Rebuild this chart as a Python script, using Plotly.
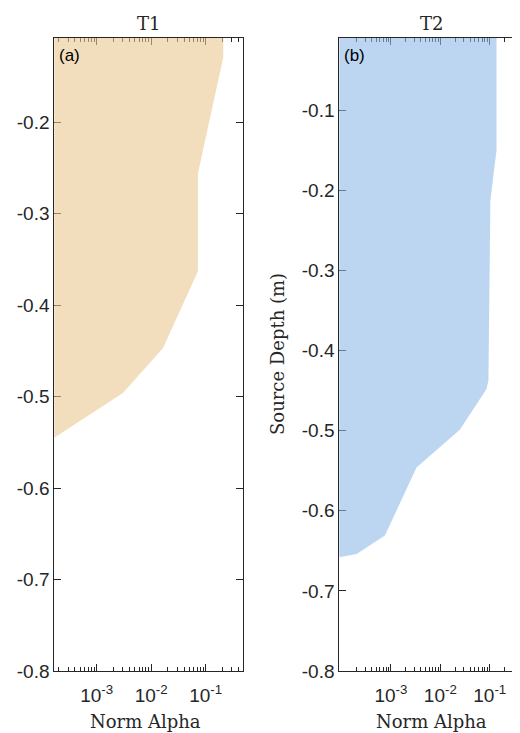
import plotly.graph_objects as go
import numpy as np

# ---------------- data ----------------
T1_depth = [-0.100, -0.129, -0.256, -0.363, -0.447, -0.496, -0.545]
T1_alpha = [0.21, 0.21, 0.072, 0.072, 0.0165, 0.00303, 1.67e-4]

T2_depth = [0.000, -0.150, -0.2125, -0.4375, -0.448, -0.499, -0.546, -0.631, -0.654, -0.658]
T2_alpha = [0.137, 0.137, 0.103, 0.094, 0.086, 0.0248, 0.0033, 0.000757, 0.000203, 9.1e-5]

x_ticks = [1e-3, 1e-2, 1e-1]
x_ticktext = ["10<sup>-3</sup>", "10<sup>-2</sup>", "10<sup>-1</sup>"]
y1_ticks = [-0.8, -0.7, -0.6, -0.5, -0.4, -0.3, -0.2]
y2_ticks = [-0.8, -0.7, -0.6, -0.5, -0.4, -0.3, -0.2, -0.1]
minor_vals = [m * 10.0 ** k for k in range(-5, 0) for m in range(2, 10)]

# the page body has an 8px margin: work in page pixels and subtract it
OFF = 8
W, H = 520, 733 - OFF
AX = "#262626"
SANS = "Liberation Sans, Arial, sans-serif"
SERIF = "DejaVu Serif, serif"
FILL1 = "rgba(233,200,145,0.6)"
FILL2 = "rgba(143,187,233,0.6)"

def px(xp):
    return (xp - OFF) / W

def py(yp):
    return (H - (yp - OFF)) / H

# plot-area geometry (page px)
L1, R1 = 54.3, 243.0
L2, R2 = 339.3, 523.7
TOP, BOT = 38.0, 671.0

fig = go.Figure()

edge = 1e-5  # closes polygon beyond the left edge
fig.add_trace(go.Scatter(
    x=[edge] + T1_alpha, y=[T1_depth[0]] + T1_depth,
    mode="lines", fill="toself", fillcolor=FILL1,
    line=dict(width=0, color=FILL1), hoverinfo="skip",
    xaxis="x", yaxis="y", showlegend=False))
fig.add_trace(go.Scatter(
    x=[edge] + T2_alpha, y=[T2_depth[0]] + T2_depth,
    mode="lines", fill="toself", fillcolor=FILL2,
    line=dict(width=0, color=FILL2), hoverinfo="skip",
    xaxis="x2", yaxis="y2", showlegend=False))

def xax(dom, rng, anchor):
    return dict(
        type="log", domain=dom, range=rng, anchor=anchor, automargin=False,
        layer="below traces",
        tickvals=x_ticks, ticktext=x_ticktext,
        ticks="inside", ticklen=7, tickwidth=1, tickcolor=AX,
        showline=True, linecolor=AX, linewidth=1, mirror="ticks",
        showgrid=False, zeroline=False,
        tickfont=dict(family=SANS, size=19, color=AX),
        ticklabelstandoff=7,
        minor=dict(tickvals=minor_vals, ticks="inside", ticklen=4,
                   tickwidth=1, tickcolor=AX, showgrid=False),
    )

def yax(dom, rng, anchor, ticks):
    return dict(
        domain=dom, range=rng, anchor=anchor, automargin=False,
        layer="below traces",
        tickvals=ticks, ticktext=[f"{t:.1f}" for t in ticks],
        ticks="inside", ticklen=7, tickwidth=1, tickcolor=AX,
        showline=True, linecolor=AX, linewidth=1, mirror="ticks",
        showgrid=False, zeroline=False,
        tickfont=dict(family=SANS, size=19, color=AX),
        ticklabelstandoff=0,
    )

def ann(text, x, y, font, **kw):
    return dict(text=text, x=px(x), y=py(y), xref="paper", yref="paper",
                xanchor=kw.pop("xanchor", "center"), yanchor="middle",
                showarrow=False, font=font, **kw)

serif_font = dict(family=SERIF, size=18, color=AX)
sans_font = dict(family=SANS, size=17, color="black")

ydom = [py(BOT), py(TOP)]
fig.update_layout(
    width=W, height=H,
    margin=dict(l=0, r=0, t=0, b=0, autoexpand=False),
    paper_bgcolor="white", plot_bgcolor="white",
    xaxis=xax([px(L1), px(R1)], [np.log10(1.67e-4), np.log10(0.483)], "y"),
    yaxis=yax(ydom, [-0.8, -0.108], "x", y1_ticks),
    xaxis2=xax([px(L2), px(R2)], [np.log10(9.05e-5), np.log10(0.486)], "y2"),
    yaxis2=yax(ydom, [-0.8, -0.01], "x2", y2_ticks),
    annotations=[
        ann("T1", (L1 + R1) / 2, 23, serif_font),
        ann("T2", 431.7, 23, serif_font),
        ann("(a)", L1 + 3, 55, sans_font, xanchor="left"),
        ann("(b)", L2 + 3, 55, sans_font, xanchor="left"),
        ann("Norm Alpha", 145.5, 721, serif_font),
        ann("Norm Alpha", 431.7, 721, serif_font),
        ann("Source Depth (m)", 277, 354, serif_font, textangle=-90),
    ],
)

fig.write_html("out.html")
